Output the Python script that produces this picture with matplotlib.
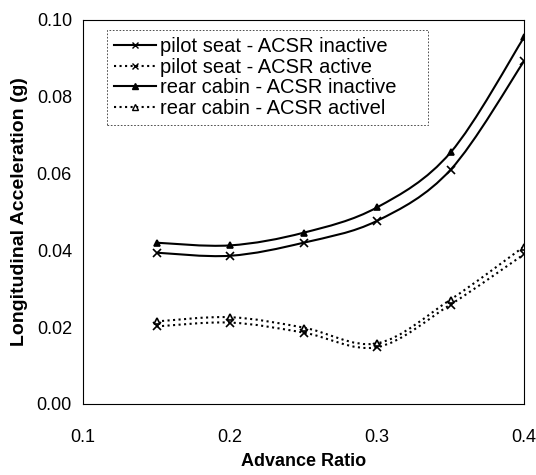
import matplotlib
matplotlib.use('Agg')
from matplotlib import pyplot as plt
from matplotlib.path import Path
from matplotlib.patches import PathPatch
from matplotlib.lines import Line2D

plt.rcParams['font.family'] = ['Liberation Sans', 'DejaVu Sans']

# Data.
advance_ratio = [0.15, 0.20, 0.25, 0.30, 0.35, 0.40]
pilot_inactive = [0.0394, 0.0386, 0.0420, 0.0477, 0.0610, 0.0893]
pilot_active = [0.0202, 0.0212, 0.0186, 0.0148, 0.0259, 0.0390]
rear_inactive = [0.0420, 0.0413, 0.0446, 0.0512, 0.0655, 0.0955]
rear_active = [0.0215, 0.0226, 0.0199, 0.0158, 0.0272, 0.0410]

labels = ['pilot seat - ACSR inactive', 'pilot seat - ACSR active',
          'rear cabin - ACSR inactive', 'rear cabin - ACSR activel']


def smooth_path(xs, ys):
    # Excel-like smoothed line: cubic Bezier segments through the points
    verts = [(xs[0], ys[0])]
    codes = [Path.MOVETO]
    n = len(xs)
    for i in range(n - 1):
        x0, y0 = xs[max(i - 1, 0)], ys[max(i - 1, 0)]
        x1, y1 = xs[i], ys[i]
        x2, y2 = xs[i + 1], ys[i + 1]
        x3, y3 = xs[min(i + 2, n - 1)], ys[min(i + 2, n - 1)]
        c1 = (x1 + (x2 - x0) / 6, y1 + (y2 - y0) / 6)
        c2 = (x2 - (x3 - x1) / 6, y2 - (y3 - y1) / 6)
        verts += [c1, c2, (x2, y2)]
        codes += [Path.CURVE4] * 3
    return Path(verts, codes)


fig = plt.figure(figsize=(5.36, 4.75), dpi=100)
ax = fig.add_axes([0.1549, 0.1495, 0.8228, 0.8084])

series = [
    (pilot_inactive, '-', 'x', 6, 'none'),
    (pilot_active, ':', 'x', 6, 'none'),
    (rear_inactive, '-', '^', 5, 'black'),
    (rear_active, ':', '^', 5, 'white'),
]

handles = []
for ys, ls, mk, ms, mfc in series:
    patch = PathPatch(smooth_path(advance_ratio, ys), facecolor='none',
                      edgecolor='black', lw=1.5, linestyle=ls)
    ax.add_patch(patch)
    ax.plot(advance_ratio, ys, linestyle='none', marker=mk, ms=ms,
            mec='black', mfc=mfc, mew=1.2, color='black')
    handles.append(Line2D([], [], color='black', lw=1.5, linestyle=ls,
                          marker=mk, ms=ms - 1, mfc=mfc, mec='black'))

ax.set_xlim(0.1, 0.4)
ax.set_ylim(0.0, 0.10)
ax.set_xticks([0.1, 0.2, 0.3, 0.4])
ax.set_xticklabels(['0.1', '0.2', '0.3', '0.4'])
ax.set_yticks([0.0, 0.02, 0.04, 0.06, 0.08, 0.10])
ax.set_yticklabels(['0.00', '0.02', '0.04', '0.06', '0.08', '0.10'])
ax.tick_params(axis='both', which='major', labelsize=13, length=0)
ax.tick_params(axis='x', pad=18)
ax.tick_params(axis='y', pad=8)
for side in ax.spines.values():
    side.set_linewidth(0.8)

ax.set_xlabel('Advance Ratio', fontsize=13, fontweight='bold', labelpad=5)
ax.set_ylabel('Longitudinal Acceleration (g)', fontsize=14,
              fontweight='bold', labelpad=6)

leg = ax.legend(handles, labels, loc='upper left', mode='expand',
                bbox_to_anchor=(0.054, 0.5, 0.728, 0.474), borderaxespad=0,
                fontsize=14.5, handlelength=2.1, handletextpad=0.2,
                labelspacing=0.08, borderpad=0.35, frameon=True,
                fancybox=False)
leg.get_frame().set_edgecolor('black')
leg.get_frame().set_linewidth(0.6)
leg.get_frame().set_linestyle((0, (2, 2)))

fig.savefig('out.png', dpi=100)
